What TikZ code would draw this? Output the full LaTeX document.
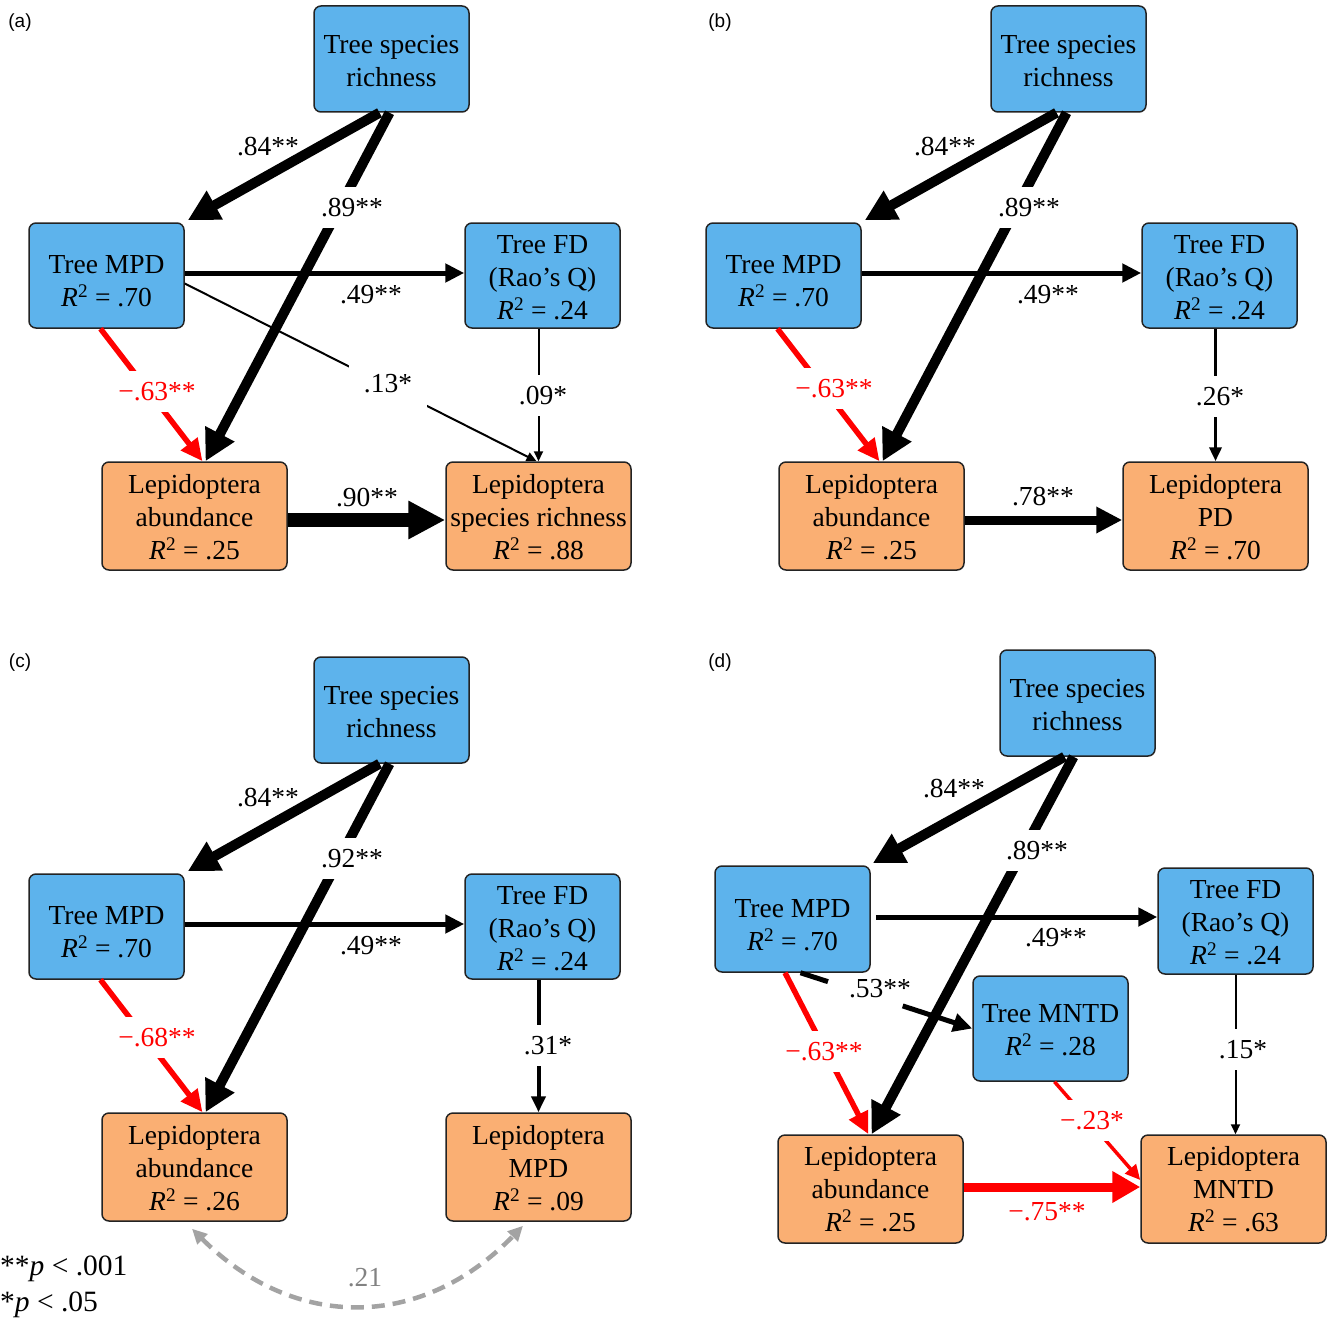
\documentclass[tikz,border=0pt]{standalone}
\usepackage{fontspec}
\setmainfont{Liberation Serif}
\newfontfamily\panelfont{Liberation Sans}
\usetikzlibrary{arrows.meta,calc}
\newcommand\boxfont{\fontsize{27.5pt}{33pt}\selectfont}
\newcommand\legfont{\fontsize{29.5pt}{35pt}\selectfont}
\newcommand\Rsq[1]{\textit{R}\textsuperscript{2} = #1}
\newcommand\upstrut[1]{\rule{0pt}{#1}}
\definecolor{treeblue}{RGB}{93,179,236}
\definecolor{lepor}{RGB}{250,175,115}
\definecolor{boxline}{RGB}{35,35,35}
\definecolor{dashgray}{RGB}{163,163,163}
\definecolor{lblgray}{RGB}{130,130,130}
\definecolor{pathred}{RGB}{255,0,0}
\tikzset{
  box/.style={draw=boxline, line width=1.5pt, rounded corners=7pt, inner sep=0pt, align=center, font=\boxfont},
  bluebox/.style={box, fill=treeblue, minimum width=155pt, minimum height=106pt},
  orangebox/.style={box, fill=lepor, minimum width=185pt, minimum height=108pt},
  lab/.style={font=\boxfont, inner sep=0pt, text height=19pt, text depth=0pt},
  gaplab/.style={lab, fill=white, inner sep=11pt},
  panel/.style={font=\panelfont\fontsize{19pt}{22pt}\selectfont, inner sep=0pt},
  legend/.style={font=\legfont, inner sep=0pt},
  arrXL/.style={draw=black, line width=14pt, -{Triangle[length=37pt,width=36pt]}},
  arrL/.style={draw=black, line width=10pt, -{Triangle[length=31pt,width=31pt]}},
  arrB/.style={draw=black, line width=9pt, -{Triangle[length=26pt,width=25pt]}},
  arrM/.style={draw=black, line width=5pt, -{Triangle[length=19pt,width=18pt]}},
  arrS/.style={draw=black, line width=3.5pt, -{Triangle[length=14pt,width=12pt]}},
  arrSf/.style={draw=black, line width=4pt, -{Triangle[length=16pt,width=14pt]}},
  arrT/.style={draw=black, line width=2pt, -{Triangle[length=10pt,width=9pt]}},
  arrR/.style={draw=pathred, line width=5.5pt, -{Triangle[length=22pt,width=20pt]}},
  arrRs/.style={draw=pathred, line width=3.5pt, -{Triangle[length=15pt,width=14pt]}},
  arrRXL/.style={draw=pathred, line width=9pt, -{Triangle[length=28pt,width=30pt]}},
  dashcurve/.style={draw=dashgray, line width=4.5pt, dash pattern=on 13pt off 8pt,
    {Triangle[length=15pt,width=14pt]}-{Triangle[length=15pt,width=14pt]}}
}
\begin{document}
\begin{tikzpicture}[x=1pt,y=-1pt]
\useasboundingbox (0,0) rectangle (1328,1319);

%================ (a) =================
\node[panel] (pa) at (20,23) {(a)};
\node[bluebox] (aTSR) at (391.5,59) {\upstrut{22.2pt}Tree species\\richness};
\node[bluebox, minimum height=105pt] (aMPD) at (106.5,275.5) {\upstrut{30pt}Tree MPD\\\Rsq{.70}};
\node[bluebox, minimum height=105pt] (aFD) at (542.5,275.5) {\upstrut{22.2pt}Tree FD\\(Rao’s Q)\\\Rsq{.24}};
\node[orangebox] (aLA) at (194.5,516) {\upstrut{22.2pt}Lepidoptera\\abundance\\\Rsq{.25}};
\node[orangebox] (aLS) at (538.5,516) {\upstrut{22.2pt}Lepidoptera\\species richness\\\Rsq{.88}};

\draw[arrL] ([xshift=-12pt]aTSR.south) -- ([shift={(3pt,2pt)}]aMPD.north east);
\draw[arrM] ([yshift=2.5pt]aMPD.east) -- ([yshift=2.5pt]aFD.west);
\draw[arrT] ([yshift=-8pt]aMPD.east) -- ([xshift=-2pt]aLS.north);
\draw[arrT] (aFD.south -| aLS.north) -- (aLS.north);
\draw[arrR] ([xshift=-6pt]aMPD.south) -- ([xshift=8pt]aLA.north);
\draw[arrL] ([xshift=-2pt]aTSR.south) -- ([xshift=11pt]aLA.north);
\draw[arrXL] ([yshift=-4pt]aLA.east) -- ([yshift=-4pt]aLS.west);

\node[lab] (a84) at (268,146) {.84**};
\node[gaplab] (a89) at (352,207) {.89**};
\node[lab] (a49) at (371,294) {.49**};
\node[gaplab, inner sep=15pt] (a13) at (388,383) {.13*};
\node[gaplab] (a09) at (543,395) {.09*};
\node[gaplab, text=pathred] (a63) at (157,391) {−.63**};
\node[lab] (a90) at (367,497) {.90**};

%================ (b) =================
\begin{scope}[shift={(677,0)}]
\node[panel] (pb) at (43,23) {(b)};
\node[bluebox] (bTSR) at (391.5,59) {\upstrut{22.2pt}Tree species\\richness};
\node[bluebox, minimum height=105pt] (bMPD) at (106.5,275.5) {\upstrut{30pt}Tree MPD\\\Rsq{.70}};
\node[bluebox, minimum height=105pt] (bFD) at (542.5,275.5) {\upstrut{22.2pt}Tree FD\\(Rao’s Q)\\\Rsq{.24}};
\node[orangebox] (bLA) at (194.5,516) {\upstrut{22.2pt}Lepidoptera\\abundance\\\Rsq{.25}};
\node[orangebox] (bPD) at (538.5,516) {\upstrut{22.2pt}Lepidoptera\\PD\\\Rsq{.70}};

\draw[arrL] ([xshift=-12pt]bTSR.south) -- ([shift={(3pt,2pt)}]bMPD.north east);
\draw[arrM] ([yshift=2.5pt]bMPD.east) -- ([yshift=2.5pt]bFD.west);
\draw[arrS] (bFD.south -| bPD.north) -- (bPD.north);
\draw[arrR] ([xshift=-6pt]bMPD.south) -- ([xshift=8pt]bLA.north);
\draw[arrL] ([xshift=-2pt]bTSR.south) -- ([xshift=11pt]bLA.north);
\draw[arrB] ([yshift=-4pt]bLA.east) -- ([yshift=-4pt]bPD.west);

\node[lab] (b84) at (268,146) {.84**};
\node[gaplab] (b89) at (352,207) {.89**};
\node[lab] (b49) at (371,294) {.49**};
\node[gaplab] (b26) at (543,396) {.26*};
\node[gaplab, text=pathred] (b63) at (157,388) {−.63**};
\node[lab] (b78) at (366,496) {.78**};
\end{scope}

%================ (c) =================
\begin{scope}[shift={(0,651)}]
\node[panel] (pc) at (20,12) {(c)};
\node[bluebox] (cTSR) at (391.5,59) {\upstrut{22.2pt}Tree species\\richness};
\node[bluebox, minimum height=105pt] (cMPD) at (106.5,275.5) {\upstrut{30pt}Tree MPD\\\Rsq{.70}};
\node[bluebox, minimum height=105pt] (cFD) at (542.5,275.5) {\upstrut{22.2pt}Tree FD\\(Rao’s Q)\\\Rsq{.24}};
\node[orangebox] (cLA) at (194.5,516) {\upstrut{22.2pt}Lepidoptera\\abundance\\\Rsq{.26}};
\node[orangebox] (cLM) at (538.5,516) {\upstrut{22.2pt}Lepidoptera\\MPD\\\Rsq{.09}};

\draw[arrL] ([xshift=-12pt]cTSR.south) -- ([shift={(3pt,2pt)}]cMPD.north east);
\draw[arrM] ([yshift=2.5pt]cMPD.east) -- ([yshift=2.5pt]cFD.west);
\draw[arrSf] (cFD.south -| cLM.north) -- (cLM.north);
\draw[arrR] ([xshift=-6pt]cMPD.south) -- ([xshift=8pt]cLA.north);
\draw[arrL] ([xshift=-2pt]cTSR.south) -- ([xshift=11pt]cLA.north);
\draw[dashcurve] ([shift={(-2.5pt,-7pt)}]cLA.south) .. controls +(102,102) and +(-102,105) .. ([shift={(-15.5pt,-4pt)}]cLM.south);

\node[lab] (c84) at (268,146) {.84**};
\node[gaplab] (c92) at (352,207) {.92**};
\node[lab] (c49) at (371,294) {.49**};
\node[gaplab] (c31) at (548,394) {.31*};
\node[gaplab, text=pathred] (c68) at (157,386) {−.68**};
\node[lab, text=lblgray] (c21) at (365,626) {.21};
\end{scope}

\node[legend, anchor=base west] (leg1) at (0,1275) {**\textit{p} < .001};
\node[legend, anchor=base west] (leg2) at (0,1311) {*\textit{p} < .05};

%================ (d) =================
\node[panel] (pd) at (720,663) {(d)};
\node[bluebox] (dTSR) at (1077.5,703) {\upstrut{22.2pt}Tree species\\richness};
\node[bluebox] (dMPD) at (792.5,919) {\upstrut{31pt}Tree MPD\\\Rsq{.70}};
\node[bluebox] (dFD) at (1235.5,921) {\upstrut{22.2pt}Tree FD\\(Rao’s Q)\\\Rsq{.24}};
\node[bluebox, minimum height=105pt] (dMNTD) at (1050.5,1028.5) {\upstrut{22.2pt}Tree MNTD\\\Rsq{.28}};
\node[orangebox] (dLA) at (870.5,1189) {\upstrut{20pt}Lepidoptera\\abundance\\\Rsq{.25}};
\node[orangebox] (dLM) at (1233.5,1189) {\upstrut{20pt}Lepidoptera\\MNTD\\\Rsq{.63}};

\draw[arrL] ([xshift=-13pt]dTSR.south) -- ([shift={(2pt,2pt)}]dMPD.north east);
\draw[arrM] ([shift={(5pt,2pt)}]dMPD.east) -- ([yshift=4pt]dFD.west);
\draw[arrR] ([xshift=-7.5pt]dMPD.south) -- ([xshift=-2pt]dLA.north);
\draw[arrL] ([xshift=-4pt]dTSR.south) -- ([xshift=1pt]dLA.north);
\coordinate (d53s) at ([xshift=8pt]dMPD.south);
\coordinate (d53e) at (dMNTD.west);
\draw[black, line width=5pt] (d53s) -- ($(d53s)!0.16!(d53e)$);
\draw[arrM] ($(d53s)!0.595!(d53e)$) -- (d53e);
\draw[arrRs] ([xshift=4pt]dMNTD.south) -- ([yshift=9pt]dLM.west);
\draw[arrT] (dFD.south) -- (dFD.south |- dLM.north);
\draw[arrRXL] ([yshift=2pt]dLA.east) -- ([yshift=2pt]dLM.west);

\node[lab] (d84) at (954,788) {.84**};
\node[gaplab] (d89) at (1037,850) {.89**};
\node[lab] (d49) at (1056,937) {.49**};
\node[lab] (d53) at (880,988) {.53**};
\node[gaplab, text=pathred] (d63) at (824,1051) {−.63**};
\node[gaplab, text=pathred] (d23) at (1092,1120) {−.23*};
\node[gaplab] (d15) at (1243,1049) {.15*};
\node[lab, text=pathred] (d75) at (1047,1211) {−.75**};
\end{tikzpicture}
\end{document}
